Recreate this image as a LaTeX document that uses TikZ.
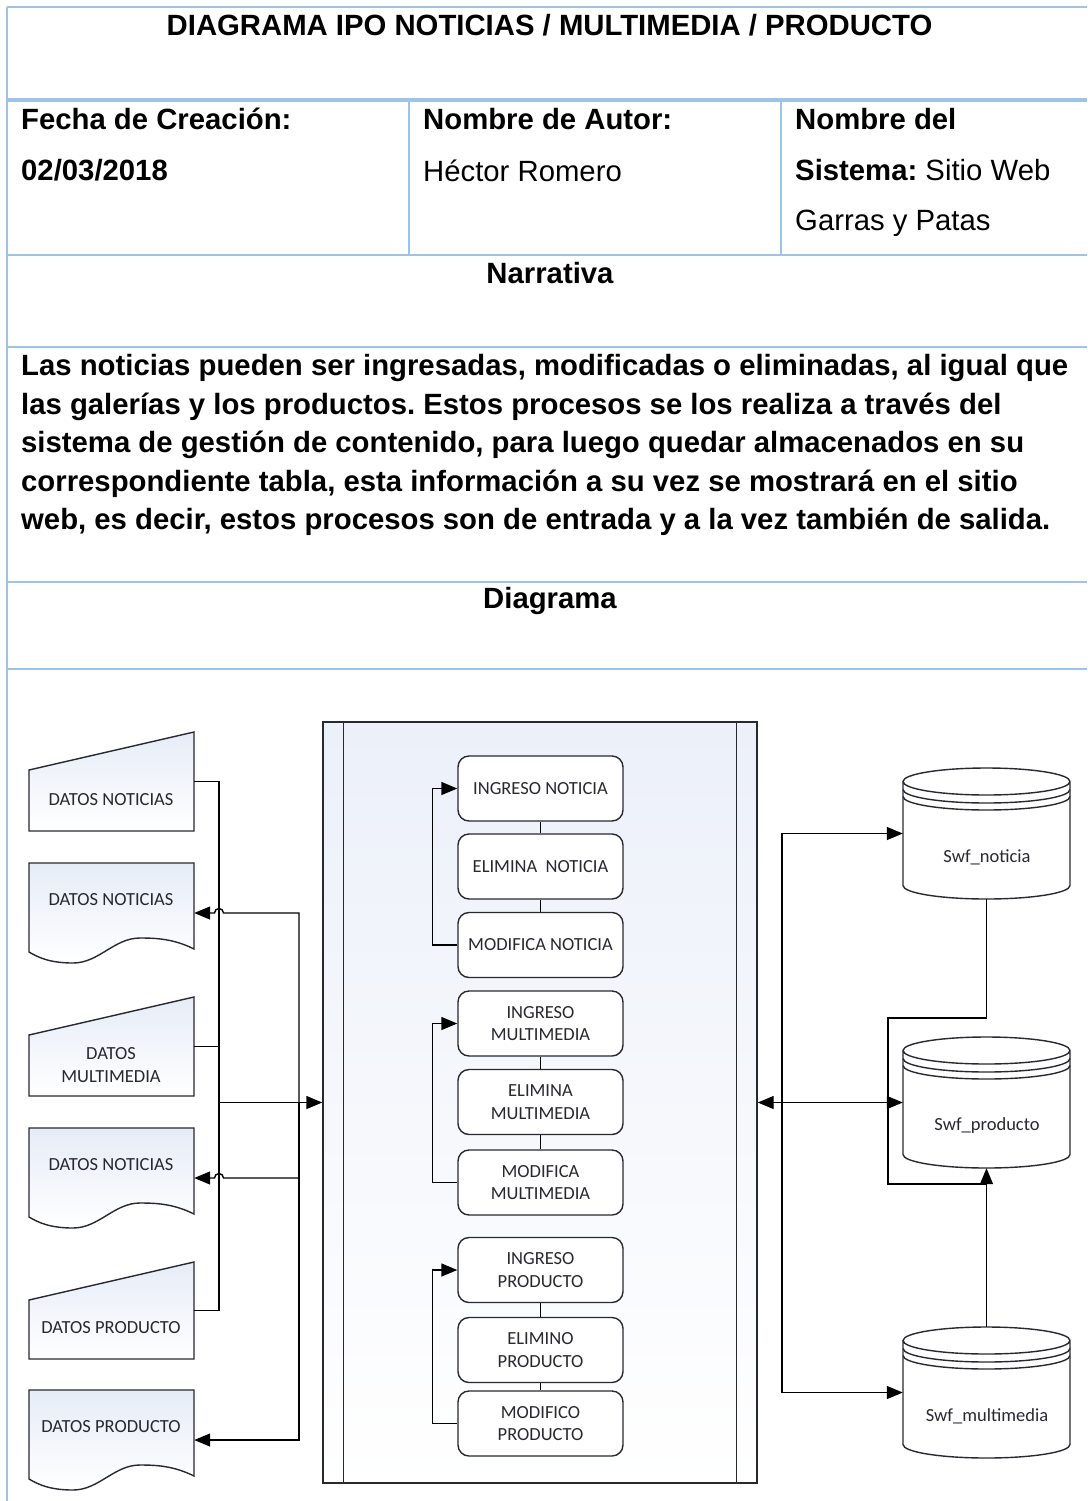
\documentclass[tikz,border=0pt]{standalone}
\usepackage{fontspec}
\setmainfont{Liberation Sans}
\newfontfamily\visio{Carlito}
\usetikzlibrary{arrows.meta,calc}
\usepackage{xcolor}
\frenchspacing
\definecolor{tblue}{RGB}{157,195,230}
\definecolor{ink}{RGB}{40,40,48}
\definecolor{tint}{RGB}{230,236,247}
\definecolor{pooltint}{RGB}{236,240,249}
\newcommand{\manualin}[5]{\begin{scope}[shift={(#2,#3)}]
  \draw[shapeline,top color=tint,bottom color=white] (0,38) -- (165,0) -- (165,#4) -- (0,#4) -- cycle;
  \node[spot,minimum width=165pt,minimum height=#4pt] (#1) at (82.5,#4/2) {};
  \node[lbl] (#1-t) at (82,#4-31) {#5};
\end{scope}}
\newcommand{\docshape}[4]{\begin{scope}[shift={(#2,#3)}]
  \draw[shapeline,top color=tint,bottom color=white] (0,0) -- (165,0) -- (165,86)
    .. controls (145,76) and (128,75) .. (111,75)
    .. controls (85,75) and (70,100) .. (44,100)
    .. controls (22,100) and (10,95) .. (0,89) -- cycle;
  \node[spot,minimum width=165pt,minimum height=100pt] (#1) at (82.5,50) {};
  \node[lbl] (#1-t) at (82,37) {#4};
\end{scope}}
\newcommand{\dbase}[4]{\begin{scope}[shift={(#2,#3)}]
  \draw[shapeline,fill=white] (0,13.5) -- (0,117.5) arc[start angle=180,end angle=360,x radius=83.5pt,y radius=13.5pt]
    -- (167,13.5) arc[start angle=0,end angle=180,x radius=83.5pt,y radius=13.5pt]
    arc[start angle=180,end angle=360,x radius=83.5pt,y radius=13.5pt];
  \draw[shapeline] (0,21.5) arc[start angle=180,end angle=360,x radius=83.5pt,y radius=13.5pt];
  \draw[shapeline] (0,28.5) arc[start angle=180,end angle=360,x radius=83.5pt,y radius=13.5pt];
  \node[spot,minimum width=167pt,minimum height=131pt] (#1) at (83.5,65.5) {};
  \node[lbl] (#1-t) at (84,89) {#4};
\end{scope}}

\begin{document}
\begin{tikzpicture}[x=1pt,y=-1pt,
    tline/.style={draw=tblue,line width=1.5pt},
    cellr/.style={inner sep=0pt,font=\fontsize{29.3}{38.6}\selectfont},
    cellb/.style={inner sep=0pt,font=\fontsize{29.3}{38.6}\selectfont\bfseries},
    shapeline/.style={draw=ink,line width=1.4pt},
    conn/.style={draw=black,line width=1.4pt},
    arr/.style={-{Triangle[length=16pt,width=13pt]}},
    arrs/.style={{Triangle[length=16pt,width=13pt]}-{Triangle[length=16pt,width=13pt]}},
    spot/.style={inner sep=0pt},
    lbl/.style={font=\visio\fontsize{18.5}{22.5}\selectfont,text=ink,align=center,inner sep=0pt},
    proc/.style={draw=ink,line width=1.4pt,fill=white,rounded corners=11pt,minimum width=165pt,
      minimum height=65pt,inner sep=2pt,align=center,font=\visio\fontsize{18.5}{22.5}\selectfont,text=ink}]
    \path[use as bounding box,fill=white] (0,0) rectangle (1087,1501);
    \draw[tline] (7,7) -- (1087,7);
    \draw[tblue,line width=3.5pt] (7,100) -- (1087,100);
    \draw[tline] (409,100) -- (409,255) (781,100) -- (781,255);
    \draw[tline] (7,255) -- (1087,255) (7,347) -- (1087,347) (7,582) -- (1087,582) (7,669) -- (1087,669);
    \draw[tline] (7,7) -- (7,1501);
    \node[cellb,anchor=base] (title) at (549.5,36) {DIAGRAMA IPO NOTICIAS / MULTIMEDIA / PRODUCTO};
    \node[cellb,anchor=base west] (fecha) at (21,130) {Fecha de Creación:};
    \node[cellb,anchor=base west] (fechav) at (21,180) {02/03/2018};
    \node[cellb,anchor=base west] (autor) at (423,130) {Nombre de Autor:};
    \node[cellr,anchor=base west] (autorv) at (423,181) {Héctor Romero};
    \node[cellb,anchor=base west] (sist) at (795,130) {Nombre del};
    \node[cellr,anchor=base west] (sistv) at (795,180) {\textbf{Sistema:} Sitio Web};
    \node[cellr,anchor=base west] (sistw) at (795,230) {Garras y Patas};
    \node[cellb,anchor=base] (narr) at (550,283) {Narrativa};
    \node[cellb,anchor=north west,align=left] (narrtxt) at (21,354) {Las noticias pueden ser ingresadas, modificadas o eliminadas, al igual que\\
      las galerías y los productos. Estos procesos se los realiza a través del\\
      sistema de gestión de contenido, para luego quedar almacenados en su\\
      correspondiente tabla, esta información a su vez se mostrará en el sitio\\
      web, es decir, estos procesos son de entrada y a la vez también de salida.};
    \node[cellb,anchor=base] (diag) at (550,608) {Diagrama};

    \manualin{inn}{29}{732}{99}{DATOS NOTICIAS}
    \docshape{outn}{29}{863}{DATOS NOTICIAS}
    \manualin{inm}{29}{997}{99}{DATOS\\MULTIMEDIA}
    \docshape{outm}{29}{1128}{DATOS NOTICIAS}
    \manualin{inp}{29}{1262}{97}{DATOS PRODUCTO}
    \docshape{outp}{29}{1390}{DATOS PRODUCTO}

    \node[shapeline,minimum width=434pt,minimum height=761pt,top color=pooltint,bottom color=white] (pool) at (540,1102.5) {};
    \draw[shapeline] ([xshift=21pt]pool.north west) -- ([xshift=21pt]pool.south west);
    \draw[shapeline] ([xshift=-21pt]pool.north east) -- ([xshift=-21pt]pool.south east);
    \node[proc] (ingn) at (540.5,788.5) {INGRESO NOTICIA};
    \node[proc] (elin) at (540.5,866.5) {ELIMINA\ \ NOTICIA};
    \node[proc] (modn) at (540.5,945) {MODIFICA NOTICIA};
    \node[proc] (ingm) at (540.5,1023.5) {INGRESO\\MULTIMEDIA};
    \node[proc] (elim) at (540.5,1102) {ELIMINA\\MULTIMEDIA};
    \node[proc] (modm) at (540.5,1182.5) {MODIFICA\\MULTIMEDIA};
    \node[proc] (ingp) at (540.5,1270) {INGRESO\\PRODUCTO};
    \node[proc] (elip) at (540.5,1350) {ELIMINO\\PRODUCTO};
    \node[proc] (modp) at (540.5,1423.5) {MODIFICO\\PRODUCTO};
    \draw[conn] (ingn) -- (elin) (elin) -- (modn) (ingm) -- (elim) (elim) -- (modm) (ingp) -- (elip) (elip) -- (modp);
    \draw[conn,arr] (modn.west) -- ++(-25,0) |- (ingn.west);
    \draw[conn,arr] (modm.west) -- ++(-25,0) |- (ingm.west);
    \draw[conn,arr] (modp.west) -- ++(-25,0) |- (ingp.west);

    \dbase{noti}{903}{768}{Swf\_noticia}
    \dbase{prod}{903}{1037}{Swf\_producto}
    \dbase{multi}{903}{1327}{Swf\_multimedia}

    \coordinate (busL) at (219,1102.5);
    \coordinate (busR) at (299,1102.5);
    \coordinate (busD) at (782,1102.5);
    \draw[conn] (inn.east) -| (busL) (inp.east) -| (busL) (inm.east) -- (inm.east -| busL);
    \draw[conn,arr] (busL) -- (pool.west);
    \draw[conn,arr] (busR) |- ([xshift=4.5pt]busL |- outn.east) arc[start angle=0,end angle=180,radius=4.5pt] -- (outn.east);
    \draw[conn,arr] (busR) |- ([xshift=4.5pt]busL |- outm.east) arc[start angle=0,end angle=180,radius=4.5pt] -- (outm.east);
    \draw[conn,arr] (busR) |- (outp.east);
    \draw[conn,arrs] (pool.east) -- (pool.east -| prod.west);
    \draw[conn,arr] (busD) |- (noti.west);
    \draw[conn,arr] (busD) |- (multi.west);
    \coordinate (bend) at (888,1018);
    \coordinate (mrg) at (987,1184);
    \draw[conn] (noti.south) |- (bend) |- (mrg);
    \draw[conn,arr] (multi.north) -- (prod.south);
\end{tikzpicture}
\end{document}
